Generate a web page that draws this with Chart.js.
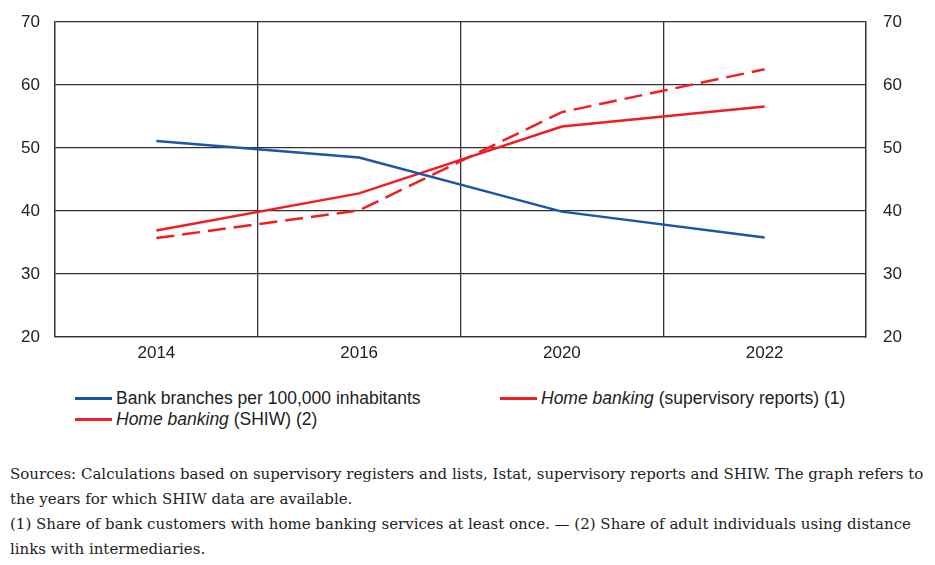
<!DOCTYPE html>
<html>
<head>
<meta charset="utf-8">
<script src="https://cdn.jsdelivr.net/npm/chart.js@4/dist/chart.umd.min.js"></script>
<style>
  body { margin: 0; background: #fff; width: 935px; height: 565px; position: relative; overflow: hidden; }
  #wrap { position: absolute; left: 0; top: 0; width: 935px; height: 370px; }
  .leg { position: absolute; font: 17.5px "Liberation Sans", Arial, sans-serif; color: #222; white-space: nowrap; }
  .leg span.s { display: inline-block; width: 37px; height: 3px; vertical-align: middle; margin-right: 4px; position: relative; top: -1px; }
  #notes { position: absolute; left: 10px; top: 462px; font: 15px "DejaVu Serif", serif; color: #222; line-height: 25px; white-space: nowrap; }
</style>
</head>
<body>
<div id="wrap"><canvas id="chart" width="935" height="370"></canvas></div>

<div class="leg" style="left:75px; top:388px;"><span class="s" style="background:#1b57a8"></span>Bank branches per 100,000 inhabitants</div>
<div class="leg" style="left:500px; top:388px;"><span class="s" style="background:#f01e23"></span><i>Home banking</i> (supervisory reports) (1)</div>
<div class="leg" style="left:75px; top:409px;"><span class="s" style="background:#f01e23"></span><i>Home banking</i> (SHIW) (2)</div>

<div id="notes">
Sources: Calculations based on supervisory registers and lists, Istat, supervisory reports and SHIW. The graph refers to<br>
the years for which SHIW data are available.<br>
(1) Share of bank customers with home banking services at least once. — (2) Share of adult individuals using distance<br>
links with intermediaries.
</div>

<script>
// anni disponibili nell'indagine SHIW
const years = ['2014', '2016', '2020', '2022'];
const branches = [51.1, 48.5, 39.9, 35.8];
const homeSupervisory = [35.7, 40.1, 55.7, 62.5];
const homeShiw = [36.9, 42.8, 53.4, 56.6];

const font = { family: '"Liberation Sans", Arial, sans-serif', size: 17 };

// larghezza fissa degli assi verticali, senza padding extra
function fixY(width) {
  return (s) => {
    s.width = width;
    s.paddingTop = 0;
    s.paddingBottom = 0;
  };
}

new Chart(document.getElementById('chart'), {
  type: 'line',
  data: {
    labels: years,
    datasets: [
      {
        label: 'Bank branches per 100,000 inhabitants',
        data: branches,
        borderColor: '#1b57a8',
        borderWidth: 2.5,
        pointRadius: 0,
      },
      {
        label: 'Home banking (supervisory reports) (1)',
        data: homeSupervisory,
        borderColor: '#f01e23',
        borderWidth: 2.5,
        borderDash: [18, 8],
        pointRadius: 0,
      },
      {
        label: 'Home banking (SHIW) (2)',
        data: homeShiw,
        borderColor: '#f01e23',
        borderWidth: 2.5,
        pointRadius: 0,
      },
    ],
  },
  options: {
    animation: false,
    responsive: false,
    layout: { padding: { top: 22 } },
    plugins: { legend: { display: false }, tooltip: { enabled: false } },
    scales: {
      x: {
        offset: true,
        grid: { offset: true, color: '#333', lineWidth: 1.3, drawTicks: false },
        border: { color: '#333', width: 1.3 },
        ticks: { color: '#222', font: font, padding: 6 },
        afterFit: (s) => { s.height = 33; s.paddingLeft = 0; s.paddingRight = 0; },
      },
      y: {
        position: 'left',
        min: 20,
        max: 70,
        grid: { color: '#333', lineWidth: 1.3, drawTicks: false },
        border: { color: '#333', width: 1.3 },
        ticks: { stepSize: 10, color: '#222', font: font, padding: 15 },
        afterFit: fixY(55),
      },
      y2: {
        position: 'right',
        min: 20,
        max: 70,
        grid: { display: false, drawTicks: false },
        border: { color: '#333', width: 1.3 },
        ticks: { stepSize: 10, color: '#222', font: font, padding: 17 },
        afterFit: fixY(69),
      },
    },
  },
});
</script>
</body>
</html>
